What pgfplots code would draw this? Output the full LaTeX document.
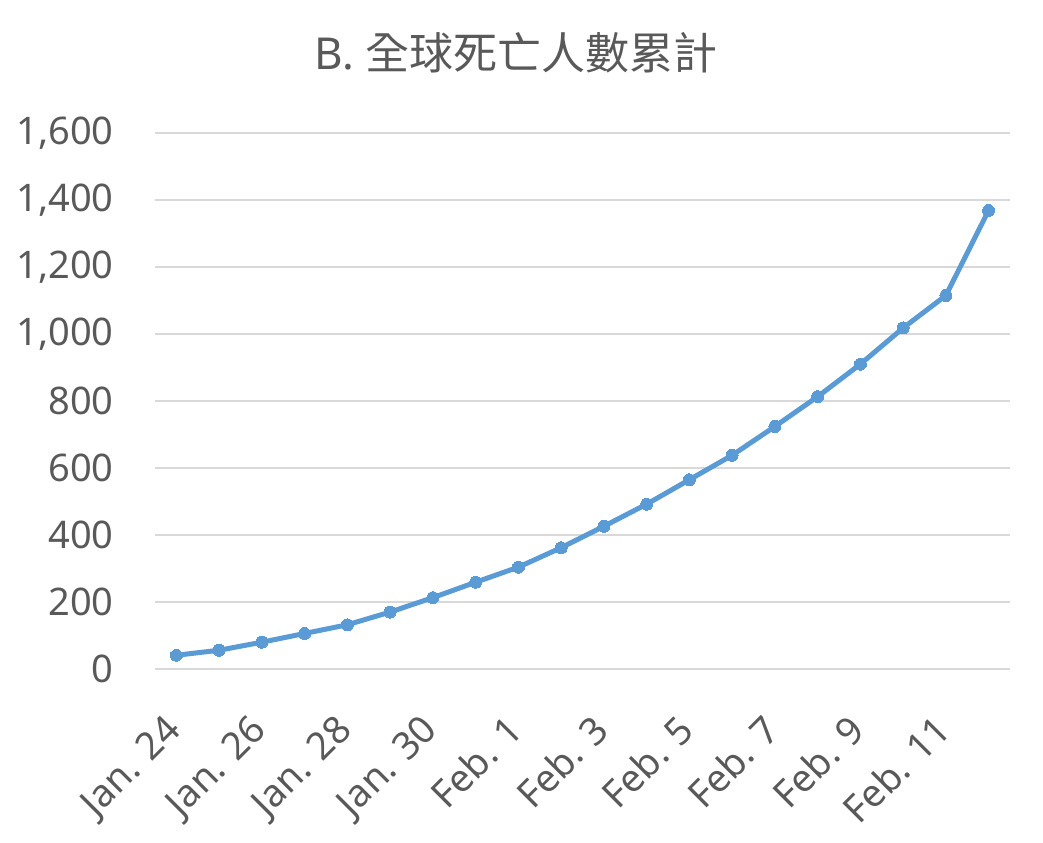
\documentclass[border=0pt]{standalone}
\usepackage{pgfplots}
\pgfplotsset{compat=1.18}
\usepackage{fontspec}
\setmainfont{Noto Sans}
\newfontfamily\cjk{Noto Sans CJK TC}
\definecolor{txtc}{HTML}{595959}
\definecolor{gridc}{HTML}{D9D9D9}
\definecolor{linec}{HTML}{5B9BD5}
\begin{document}
\begin{tikzpicture}[x=1bp,y=1bp]
\useasboundingbox (0,0) rectangle (1043,843);
\node[text=txtc,font={\fontsize{44bp}{50bp}\selectfont}] at (516,790) {B. {\cjk 全球死亡人數累計}};
\begin{axis}[
  at={(155bp,174bp)}, anchor=south west,
  scale only axis, width=855bp, height=536bp,
  xmin=-0.5, xmax=19.5, ymin=0, ymax=1600,
  axis line style={draw=none},
  ytick={0,200,...,1600},
  yticklabels={0,200,400,600,800,{1,000},{1,200},{1,400},{1,600}},
  ymajorgrids, xmajorgrids=false, grid style={color=gridc, line width=1.5bp},
  major tick style={draw=none},
  xtick={0,2,...,18},
  xticklabels={Jan. 24,Jan. 26,Jan. 28,Jan. 30,Feb. 1,Feb. 3,Feb. 5,Feb. 7,Feb. 9,Feb. 11},
  tick label style={text=txtc,font={\fontsize{38bp}{44bp}\selectfont}},
  yticklabel style={xshift=-38bp},
  xticklabel style={rotate=45, anchor=north east, inner sep=0pt, xshift=-40bp, yshift=-21bp},
  clip=false,
]
\addplot[color=linec, line width=5bp, mark=*, mark size=6bp, mark options={fill=linec, draw=linec, line width=0bp}] coordinates {
(0,41) (1,56) (2,80) (3,106) (4,132) (5,170) (6,213) (7,259) (8,304) (9,362)
(10,426) (11,492) (12,565) (13,638) (14,724) (15,813) (16,910) (17,1018) (18,1115) (19,1369)
};
\end{axis}
\end{tikzpicture}
\end{document}
